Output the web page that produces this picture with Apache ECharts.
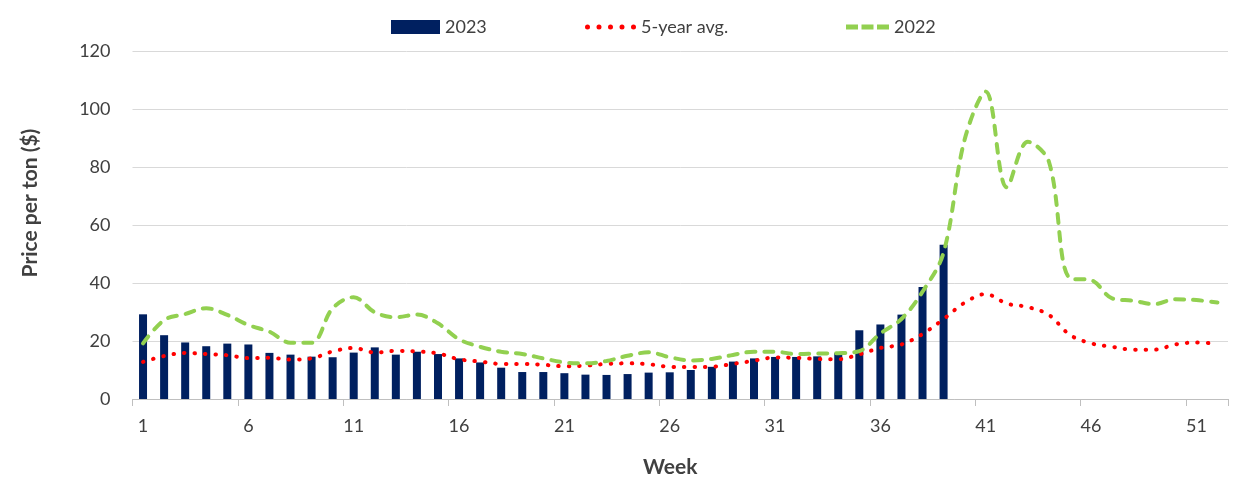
<!DOCTYPE html>
<html>
<head>
<meta charset="utf-8">
<script src="https://cdn.jsdelivr.net/npm/echarts@6/dist/echarts.min.js"></script>
<style>
html,body{margin:0;padding:0;background:#fff;}
#chart{width:1235px;height:479px;}
</style>
</head>
<body>
<div id="chart"></div>
<script>
const weeks = Array.from({length: 52}, (_, i) => String(i + 1));
const y2023 = [29.2,22.0,19.5,18.2,19.1,18.8,15.9,15.3,14.6,14.4,16.0,17.8,15.3,16.3,15.5,14.0,12.6,10.8,9.3,9.3,8.9,8.4,8.3,8.6,9.1,9.2,10.0,11.1,12.9,14.0,14.5,14.5,14.7,15.9,23.7,25.7,29.1,38.6,53.2];
const avg5 = [12.8,14.8,15.9,15.5,15.1,14.1,14.2,13.6,14.0,16.4,17.6,16.0,16.6,16.4,15.7,13.7,12.9,12.1,12.1,11.8,11.3,11.5,12.1,12.3,12.0,11.1,11.0,11.1,12.1,13.2,14.3,14.2,13.8,13.7,15.4,17.6,18.8,22.4,27.6,33.2,36.2,32.9,31.7,29.0,22.1,19.2,18.0,17.0,17.0,18.8,19.5,19.0];
const y2022 = [19.2,27.2,29.3,31.3,29.0,25.5,23.2,19.4,19.4,31.3,35.1,29.9,28.2,29.1,26.1,20.6,18.0,16.3,15.5,14.0,12.6,12.3,13.1,14.9,16.1,14.4,13.3,13.8,15.2,16.3,16.3,15.5,15.7,15.8,16.5,22.6,27.6,37.0,50.5,89.5,106.0,73.0,88.7,81.8,41.6,41.0,34.7,33.9,32.7,34.4,34.1,33.3];
const yTicks = [0, 20, 40, 60, 80, 100, 120];

const FONT = 'Lato, "Open Sans", sans-serif';
const TXT = '#404040';

function dotsPath() {
  let p = '';
  for (let i = 0; i < 5; i++) {
    const cx = 2.5 + i * 11.5;
    p += 'M' + (cx - 2.5) + ',2.5a2.5,2.5 0 1,0 5,0a2.5,2.5 0 1,0 -5,0z';
  }
  return 'path://' + p;
}
const dashPath = 'path://M0,0h12v5h-12zM15.5,0h12v5h-12zM31,0h12v5h-12z';

const chart = echarts.init(document.getElementById('chart'), null, {renderer: 'canvas'});
const legendBase = {
  top: 13, itemGap: 0, symbolKeepAspect: false,
  textStyle: {fontFamily: FONT, fontSize: 18, color: TXT},
  selectedMode: false
};
chart.setOption({
  animation: false,
  backgroundColor: '#fff',
  grid: {left: 132.5, right: 7, top: 51, bottom: 80, containLabel: false, outerBoundsMode: 'none'},
  legend: [
    Object.assign({}, legendBase, {left: 386, itemWidth: 49, itemHeight: 14,
      data: [{name: '2023', icon: 'rect'}]}),
    Object.assign({}, legendBase, {left: 580, itemWidth: 51, itemHeight: 5,
      data: [{name: '5-year avg.', icon: dotsPath(), itemStyle: {color: '#ff0000'}}]}),
    Object.assign({}, legendBase, {left: 841, itemWidth: 43, itemHeight: 5,
      data: [{name: '2022', icon: dashPath, itemStyle: {color: '#92d050'}}]})
  ],
  xAxis: {
    type: 'category',
    data: weeks,
    boundaryGap: true,
    name: 'Week',
    nameLocation: 'middle',
    nameGap: 58,
    nameTextStyle: {fontFamily: FONT, fontSize: 21, fontWeight: 'bold', color: TXT, padding: [0, 20, 0, 0]},
    axisLine: {lineStyle: {color: '#bfbfbf', width: 1}},
    axisTick: {show: true, interval: 4, length: 7, lineStyle: {color: '#bfbfbf'}},
    axisLabel: {interval: 4, margin: 18, fontFamily: FONT, fontSize: 18, color: TXT},
    splitLine: {show: false}
  },
  yAxis: {
    type: 'value',
    min: 0, max: 120, interval: 20,
    name: 'Price per ton ($)',
    nameLocation: 'middle',
    nameGap: 92,
    nameTextStyle: {fontFamily: FONT, fontSize: 21, fontWeight: 'bold', color: TXT, padding: [0, 0, 0, 44]},
    axisLine: {show: false},
    axisTick: {show: false},
    axisLabel: {margin: 22, fontFamily: FONT, fontSize: 18, color: TXT,
      formatter: v => yTicks.includes(v) ? String(v) : ''},
    splitLine: {lineStyle: {color: '#d9d9d9', width: 1}}
  },
  series: [
    {
      name: '2023', type: 'bar', data: y2023, barWidth: 8,
      itemStyle: {color: '#002060'}
    },
    {
      name: '5-year avg.', type: 'line', data: avg5, smooth: 0.35,
      symbol: 'none', showSymbol: false,
      itemStyle: {color: '#ff0000'},
      lineStyle: {color: '#ff0000', width: 4, type: [0.5, 10], cap: 'round'}
    },
    {
      name: '2022', type: 'line', data: y2022, smooth: 0.35,
      symbol: 'none', showSymbol: false,
      itemStyle: {color: '#92d050'},
      lineStyle: {color: '#92d050', width: 4, type: [9, 9], cap: 'round'}
    }
  ]
});
</script>
</body>
</html>
